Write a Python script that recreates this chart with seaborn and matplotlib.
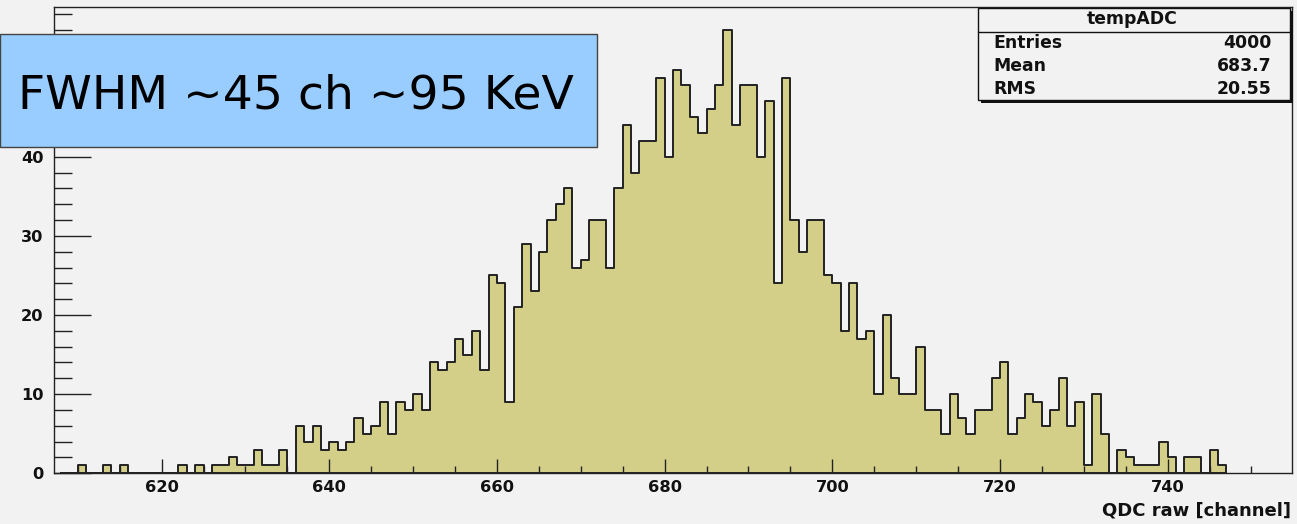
import numpy as np
import pandas as pd
import matplotlib
matplotlib.use("Agg")
import matplotlib.pyplot as plt
from matplotlib.patches import Rectangle
from matplotlib.ticker import MultipleLocator
import seaborn as sns

# ---------------- data ----------------
channels = list(range(608, 747))  # bin lower edges, bin width 1 channel
counts = [
    # 608-635
    0, 0, 1, 0, 0, 1, 0, 1, 0, 0, 0, 0, 0, 0, 1, 0, 1, 0, 1, 1, 2, 1, 1, 3, 1, 1, 3, 0,
    # 636-660
    6, 4, 6, 3, 4, 3, 4, 7, 5, 6, 9, 5, 9, 8, 10, 8, 14, 13, 14, 17, 15, 18, 13, 25, 24,
    # 661-696
    9, 21, 29, 23, 28, 32, 34, 36, 26, 27, 32, 32, 26, 36, 44, 38, 42, 42, 50, 40, 51, 49,
    45, 43, 46, 49, 56, 44, 49, 49, 40, 47, 24, 50, 32, 28,
    # 697-746
    32, 32, 25, 24, 18, 24, 17, 18, 10, 20, 12, 10, 10, 16, 8, 8, 5, 10, 7, 5, 8, 8, 12, 14,
    5, 7, 10, 9, 6, 8, 12, 6, 9, 1, 10, 5, 0, 3, 2, 1, 1, 1, 4, 2, 0, 2, 2, 0, 3, 1,
]
x_ticks = [620, 640, 660, 680, 700, 720, 740]
y_ticks = [0, 10, 20, 30, 40]
x_label = "QDC raw [channel]"
stats_title = "tempADC"
stats_names = ["Entries", "Mean", "RMS"]
stats_values = ["4000", "683.7", "20.55"]
note_text = "FWHM ~45 ch ~95 KeV"

df = pd.DataFrame({"channel": np.array(channels) + 0.5, "count": counts})
edges = [float(e) for e in range(channels[0], channels[-1] + 2)]

# ---------------- style ----------------
sns.set_style("ticks")
plt.rcParams["font.family"] = ["DejaVu Sans"]
BG = "#f2f2f2"
FILL = "#d4cf88"
EDGE = "#222222"

W, H = 1297, 524
fig = plt.figure(figsize=(W / 100, H / 100), dpi=100, facecolor=BG)

def fx(px):
    return px / W

def fy(py):
    return 1 - py / H

left, right, top, bottom = 54, 1291.7, 6.7, 473.3
ax = fig.add_axes([fx(left), fy(bottom), fx(right - left), (bottom - top) / H])
ax.set_facecolor(BG)

sns.histplot(data=df, x="channel", weights="count", bins=edges, element="step",
             fill=True, color=FILL, edgecolor=EDGE, linewidth=1.4, alpha=1, ax=ax)
for c in ax.collections:
    c.set_zorder(1)
for p in ax.patches:
    p.set_zorder(1)
for ln in ax.lines:
    ln.set_zorder(1.2)
ax.set_axisbelow(False)

ax.set_xlim(607.16, 754.8)
ax.set_ylim(0, 58.95)
ax.set_xlabel("")
ax.set_ylabel("")

ax.set_xticks(x_ticks)
ax.set_yticks(y_ticks)
ax.xaxis.set_minor_locator(MultipleLocator(5))
ax.yaxis.set_minor_locator(MultipleLocator(2))
ax.tick_params(axis="x", which="major", direction="in", length=10, width=1, color=EDGE,
               pad=5, labelsize=11.7)
ax.tick_params(axis="x", which="minor", direction="in", length=5, width=1, color=EDGE)
ax.tick_params(axis="y", which="major", direction="in", length=26.5, width=1, color=EDGE,
               pad=7.5, labelsize=11.7)
ax.tick_params(axis="y", which="minor", direction="in", length=13, width=1, color=EDGE)
for lab in ax.get_xticklabels() + ax.get_yticklabels():
    lab.set_fontweight("bold")
    lab.set_color("#111111")
for s in ax.spines.values():
    s.set_visible(True)
    s.set_color(EDGE)
    s.set_linewidth(1)
    s.set_zorder(3)

fig.text(fx(1291), fy(510), x_label, ha="right", va="center", fontsize=13,
         fontweight="bold", color="#111111")

# ---------------- stats box ----------------
bx0, by0, bx1, by1 = 978, 8, 1290, 100
fig.add_artist(Rectangle((fx(bx0 + 3), fy(by1 + 3)), fx(bx1 - bx0), (by1 - by0) / H,
                         transform=fig.transFigure, facecolor="#111111", edgecolor="none",
                         zorder=5))
fig.add_artist(Rectangle((fx(bx0), fy(by1)), fx(bx1 - bx0), (by1 - by0) / H,
                         transform=fig.transFigure, facecolor=BG, edgecolor="#111111",
                         linewidth=1, zorder=6))
fig.add_artist(plt.Line2D([fx(bx0), fx(bx1)], [fy(32), fy(32)], transform=fig.transFigure,
                          color="#111111", linewidth=1, zorder=7))
fig.text(fx(1132), fy(19.5), stats_title, ha="center", va="center", fontsize=12.4,
         fontweight="bold", color="#111111", zorder=8)
for i, (n, v) in enumerate(zip(stats_names, stats_values)):
    yy = [43.5, 66, 88.5][i]
    fig.text(fx(993), fy(yy), n, ha="left", va="center", fontsize=12.4,
             fontweight="bold", color="#111111", zorder=8)
    fig.text(fx(1272), fy(yy), v, ha="right", va="center", fontsize=12.4,
             fontweight="bold", color="#111111", zorder=8)

# ---------------- FWHM note ----------------
fig.add_artist(Rectangle((fx(0), fy(146.7)), fx(596.7), (146.7 - 34.3) / H,
                         transform=fig.transFigure, facecolor="#99ccff", edgecolor="#444444",
                         linewidth=1, zorder=9))
fig.text(fx(18), fy(108.3), note_text, ha="left", va="baseline", fontsize=34,
         color="#000000", zorder=10)

fig.savefig("out.png", dpi=100, facecolor=BG)
